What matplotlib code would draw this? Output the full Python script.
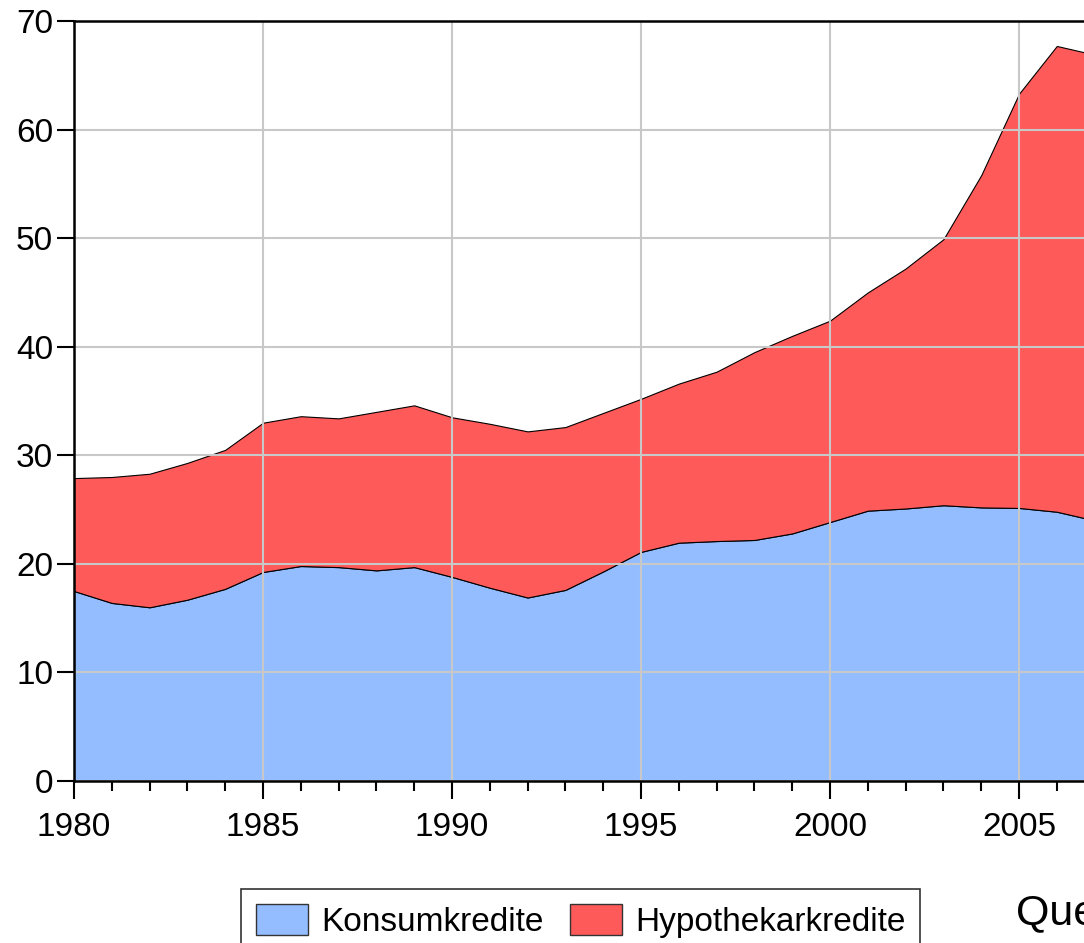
import matplotlib
matplotlib.use("Agg")
import matplotlib.pyplot as plt

years = list(range(1980, 2008))
konsum = [17.5, 16.4, 16.0, 16.7, 17.7, 19.25, 19.8, 19.7, 19.4, 19.7,
          18.8, 17.8, 16.9, 17.6, 19.3, 21.1, 21.95, 22.1, 22.2, 22.8,
          23.85, 24.9, 25.1, 25.4, 25.2, 25.15, 24.8, 24.0]
total = [27.9, 28.0, 28.3, 29.3, 30.5, 33.0, 33.6, 33.4, 34.0, 34.6,
         33.5, 32.9, 32.2, 32.6, 33.9, 35.2, 36.6, 37.7, 39.5, 41.0,
         42.4, 45.0, 47.2, 49.9, 55.8, 63.3, 67.7, 66.9]
hypo = [t - k for t, k in zip(total, konsum)]
labels = ["Konsumkredite", "Hypothekarkredite"]
colors = ["#94BDFF", "#FF5A5A"]
source_text = "Quelle"

plt.rcParams['font.family'] = ['Liberation Sans', 'DejaVu Sans']

W, H = 1084, 943
fig = plt.figure(figsize=(W/100, H/100), dpi=100)
x0, x1 = 1980, 2008
pxyear = (263 - 74) / 5.0
left = 74 / W
width = (x1 - x0) * pxyear / W
bottom = (H - 781) / H
height = (781 - 21) / H
ax = fig.add_axes([left, bottom, width, height])

ax.stackplot(years, konsum, hypo, colors=colors, labels=labels,
             edgecolor='black', linewidth=0.8, zorder=2)
ax.set_xlim(x0, x1)
ax.set_ylim(0, 70)
ax.set_yticks(range(0, 71, 10))
ax.set_xticks(range(1980, 2009, 5))
ax.set_xticks(range(1980, 2009, 1), minor=True)
ax.grid(True, color='#c8c8c8', linewidth=1.5, zorder=3)
ax.set_axisbelow(False)
for s in ['left', 'top', 'bottom']:
    ax.spines[s].set_linewidth(1.8)
    ax.spines[s].set_zorder(5)
ax.spines['right'].set_visible(False)
ax.tick_params(axis='both', which='major', direction='out', labelsize=24,
               width=1.5, length=12, pad=3)
ax.tick_params(axis='x', which='major', length=13, pad=9)
ax.tick_params(axis='x', which='minor', direction='out', length=7, width=1.5)
ax.tick_params(axis='y', which='minor', left=False)

# legend
handles = [plt.Rectangle((0, 0), 1, 1, facecolor=c, edgecolor='#333333', linewidth=1) for c in colors]
leg = fig.legend(handles, labels, loc='upper left',
                 bbox_to_anchor=(241 / W, 1 - 889 / H), ncol=2,
                 frameon=True, fancybox=False, edgecolor='black',
                 prop={'size': 24},
                 handlelength=1.55, handleheight=1.05, columnspacing=0.8,
                 handletextpad=0.4, borderpad=0.45, borderaxespad=0)
leg.get_frame().set_linewidth(1.2)

fig.text(1016 / W, 1 - 913 / H, source_text, fontsize=31, va='center', ha='left')

fig.savefig("out.png", dpi=100)
